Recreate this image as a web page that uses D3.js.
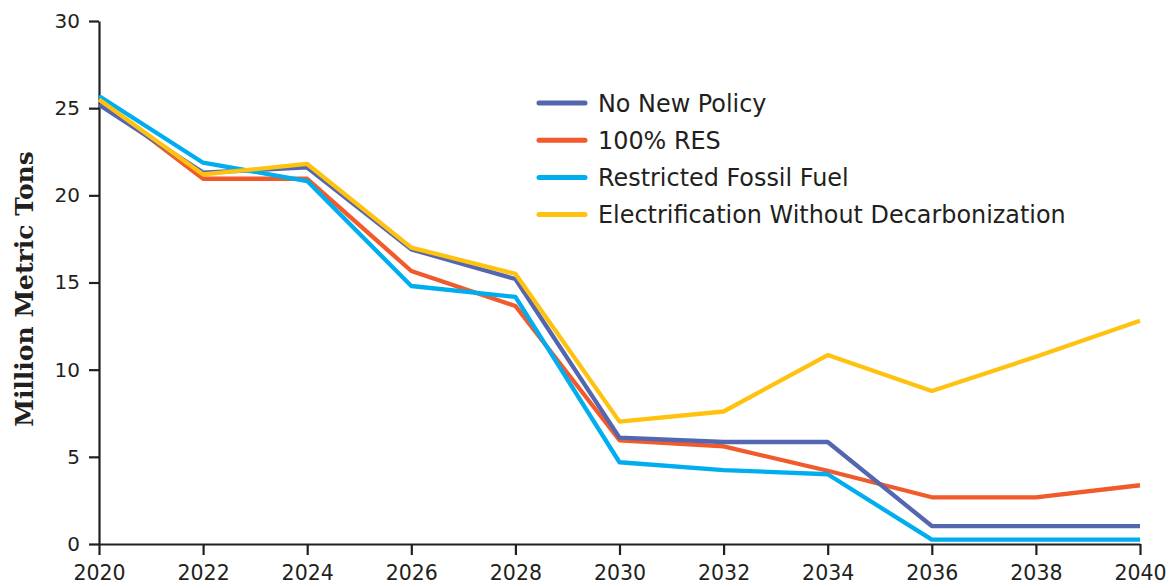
<!DOCTYPE html>
<html><head><meta charset="utf-8">
<script src="https://cdn.jsdelivr.net/npm/d3@7/dist/d3.min.js"></script>
<style>
html,body{margin:0;padding:0;background:#fff;}
svg{display:block;}
</style></head>
<body>
<svg id="chart" width="1168" height="585"></svg>
<script>
const years = [2020,2022,2024,2026,2028,2030,2032,2034,2036,2038,2040];
const noNewPolicy = [25.2,21.3,21.6,16.9,15.2,6.1,5.85,5.85,1.03,1.03,1.03];
const res100 = [25.5,20.95,20.95,15.66,13.65,5.95,5.6,4.2,2.68,2.68,3.37];
const restrictedFossil = [25.7,21.87,20.82,14.8,14.17,4.69,4.24,4.0,0.25,0.25,0.25];
const electrification = [25.5,21.2,21.8,17.0,15.5,7.02,7.6,10.84,8.78,10.74,12.81];
const yTicks = [0,5,10,15,20,25,30];
const xTicks = years;

const series = [
  {name:"No New Policy", values:noNewPolicy, color:"#5566b0"},
  {name:"100% RES", values:res100, color:"#f15a2b"},
  {name:"Restricted Fossil Fuel", values:restrictedFossil, color:"#00aeef"},
  {name:"Electrification Without Decarbonization", values:electrification, color:"#ffc20e"}
];
const drawOrder = [1,0,2,3];

const svg = d3.select("#chart");
const x = d3.scaleLinear().domain([2020,2040]).range([99,1140]);
const y = d3.scaleLinear().domain([0,30]).range([544,21]);
const sans = "'DejaVu Sans', sans-serif";
const ink = "#231f20";

const yAxis = svg.append("g").attr("transform","translate(99,0)")
  .call(d3.axisLeft(y).tickValues(yTicks).tickSize(10).tickPadding(9).tickSizeOuter(0));
const xAxis = svg.append("g").attr("transform","translate(0,544)")
  .call(d3.axisBottom(x).tickValues(xTicks).tickFormat(d3.format("d")).tickSize(11).tickPadding(10).tickSizeOuter(0));
[yAxis,xAxis].forEach(g=>{
  g.selectAll("path.domain").attr("stroke",ink).attr("stroke-width",2.2);
  g.selectAll(".tick line").attr("stroke",ink).attr("stroke-width",2.2);
  g.selectAll(".tick text").attr("fill",ink).style("font-family",sans).style("font-size","20px");
});
xAxis.selectAll(".tick text").style("font-size","20.5px");

svg.append("text")
  .attr("transform","translate(33,289) rotate(-90)")
  .attr("text-anchor","middle")
  .style("font-family","'DejaVu Serif', serif")
  .style("font-weight","bold")
  .style("font-size","25px")
  .attr("fill",ink)
  .text("Million Metric Tons");

const line = d3.line().x((d,i)=>x(years[i])).y(d=>y(d));
drawOrder.forEach(k=>{
  const s = series[k];
  svg.append("path").datum(s.values)
    .attr("fill","none").attr("stroke",s.color).attr("stroke-width",4.3)
    .attr("stroke-linejoin","round").attr("d",line);
});

const leg = svg.append("g");
series.forEach((s,i)=>{
  const ly = 103 + i*37.2;
  leg.append("line").attr("x1",539).attr("x2",585).attr("y1",ly).attr("y2",ly)
    .attr("stroke",s.color).attr("stroke-width",5).attr("stroke-linecap","round");
  leg.append("text").attr("x",598).attr("y",ly).attr("dy","0.36em")
    .style("font-family",sans).style("font-size","23.9px").attr("fill",ink)
    .text(s.name);
});
</script>
</body></html>
